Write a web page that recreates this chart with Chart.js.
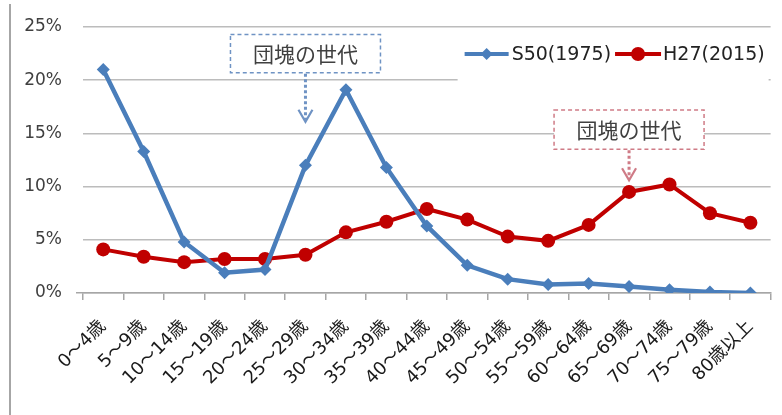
<!DOCTYPE html>
<html>
<head>
<meta charset="utf-8">
<script src="https://cdn.jsdelivr.net/npm/chart.js@4.4.1/dist/chart.umd.min.js"></script>
<style>
html,body{margin:0;padding:0;background:#fff;}
#wrap{width:782px;height:415px;position:relative;}
</style>
</head>
<body>
<div id="wrap"><canvas id="c" width="782" height="415"></canvas></div>
<script>
const categories = ["0～4歳","5～9歳","10～14歳","15～19歳","20～24歳","25～29歳","30～34歳","35～39歳","40～44歳","45～49歳","50～54歳","55～59歳","60～64歳","65～69歳","70～74歳","75～79歳","80歳以上"];
const s50_1975 = [21.0, 13.3, 4.8, 1.9, 2.2, 12.0, 19.1, 11.8, 6.3, 2.6, 1.3, 0.8, 0.9, 0.6, 0.3, 0.1, 0.0];
const h27_2015 = [4.1, 3.4, 2.9, 3.2, 3.2, 3.6, 5.7, 6.7, 7.9, 6.9, 5.3, 4.9, 6.4, 9.5, 10.2, 7.5, 6.6];
const seriesNames = ["S50(1975)", "H27(2015)"];
const yTicks = [0, 5, 10, 15, 20, 25];
// annotations: category index of arrow, box top/bottom (%), arrow tip (%)
const notes = [
  {label:"団塊の世代", index:5,  boxTop:24.3, boxBottom:20.7, tip:16.1, color:"#6f93c4", text:"#404040"},
  {label:"団塊の世代", index:13, boxTop:17.2, boxBottom:13.5, tip:10.6, color:"#cf7b86", text:"#404040"}
];

const BLUE = "#4a7ebb";
const RED = "#c00000";

const decor = {
  id: 'decor',
  afterDraw(chart) {
    const ctx = chart.ctx;
    const x = chart.scales.x, y = chart.scales.y;
    const area = chart.chartArea;
    ctx.save();
    // left frame line
    ctx.strokeStyle = "#a6a6a6";
    ctx.lineWidth = 2;
    ctx.beginPath(); ctx.moveTo(10, 4); ctx.lineTo(10, 415); ctx.stroke();

    // annotations
    notes.forEach(n => {
      const cx = x.getPixelForValue(n.index);
      const top = y.getPixelForValue(n.boxTop), bot = y.getPixelForValue(n.boxBottom);
      const tip = y.getPixelForValue(n.tip);
      const w = 150;
      ctx.fillStyle = "#fff";
      ctx.fillRect(cx - w/2, top, w, bot - top);
      ctx.setLineDash([4, 3]);
      ctx.strokeStyle = n.color;
      ctx.lineWidth = 1.5;
      ctx.strokeRect(cx - w/2, top, w, bot - top);
      ctx.fillStyle = n.text;
      ctx.font = '21px "Noto Sans CJK JP"';
      ctx.textAlign = 'center'; ctx.textBaseline = 'middle';
      ctx.fillText(n.label, cx, (top + bot)/2);
      // dotted arrow
      ctx.setLineDash([3, 2.5]);
      ctx.lineWidth = 3;
      ctx.beginPath(); ctx.moveTo(cx, bot + 1); ctx.lineTo(cx, tip - 2); ctx.stroke();
      ctx.setLineDash([]);
      ctx.lineWidth = 2.2;
      ctx.beginPath(); ctx.moveTo(cx - 7, tip - 12); ctx.lineTo(cx, tip); ctx.lineTo(cx + 7, tip - 12); ctx.stroke();
    });

    // legend
    const lx = area.right - 306, ly = 54;
    ctx.fillStyle = "#fff";
    ctx.fillRect(lx - 7, 33, area.right - lx + 5, 48);
    ctx.font = '19px "DejaVu Sans"';
    ctx.textAlign = 'left'; ctx.textBaseline = 'middle';
    // blue
    ctx.strokeStyle = BLUE; ctx.lineWidth = 4;
    ctx.beginPath(); ctx.moveTo(lx, ly); ctx.lineTo(lx + 44, ly); ctx.stroke();
    ctx.fillStyle = BLUE;
    ctx.beginPath(); ctx.moveTo(lx + 22, ly - 6); ctx.lineTo(lx + 28, ly); ctx.lineTo(lx + 22, ly + 6); ctx.lineTo(lx + 16, ly); ctx.closePath(); ctx.fill();
    ctx.fillStyle = "#222";
    ctx.fillText(seriesNames[0], lx + 47, ly + 1);
    const w1 = ctx.measureText(seriesNames[0]).width;
    const rx = lx + 47 + w1 + 4;
    ctx.strokeStyle = RED; ctx.lineWidth = 4;
    ctx.beginPath(); ctx.moveTo(rx, ly); ctx.lineTo(rx + 46, ly); ctx.stroke();
    ctx.fillStyle = RED;
    ctx.beginPath(); ctx.arc(rx + 23, ly, 7, 0, Math.PI*2); ctx.fill();
    ctx.fillStyle = "#222";
    ctx.fillText(seriesNames[1], rx + 48, ly + 1);
    ctx.restore();
  }
};

new Chart(document.getElementById('c'), {
  type: 'line',
  data: {
    labels: categories,
    datasets: [
      {label: seriesNames[0], data: s50_1975, borderColor: BLUE, backgroundColor: BLUE, borderWidth: 4.5,
       pointStyle: 'rectRot', pointRadius: 6.5, pointBorderWidth: 0, tension: 0},
      {label: seriesNames[1], data: h27_2015, borderColor: RED, backgroundColor: RED, borderWidth: 4,
       pointStyle: 'circle', pointRadius: 7, pointBorderWidth: 0, tension: 0}
    ]
  },
  options: {
    responsive: false,
    animation: false,
    devicePixelRatio: 1,
    layout: {padding: {left: 0, right: 11, top: 27, bottom: 0}},
    plugins: {legend: {display: false}, tooltip: {enabled: false}},
    scales: {
      x: {
        offset: true,
        grid: {offset: true, drawOnChartArea: false, drawTicks: true, tickLength: 7, color: "#a6a6a6", lineWidth: 1.5},
        border: {display: true, color: "#a6a6a6", width: 1.5},
        ticks: {minRotation: 45, maxRotation: 45, autoSkip: false, color: "#1a1a1a", padding: 16,
                font: {family: '"DejaVu Sans", "Noto Sans CJK JP"', size: 18}},
        afterFit(s) { s.height = 122; }
      },
      y: {
        min: 0, max: 25,
        afterBuildTicks(s) { s.ticks = yTicks.map(v => ({value: v})); },
        grid: {color: "#bcbcbc", lineWidth: 1.5, drawTicks: true, tickLength: 7,
               tickColor: c => (c.tick && c.tick.value === 0) ? "#a6a6a6" : "rgba(0,0,0,0)"},
        border: {display: false},
        ticks: {color: "#404040", padding: 14, font: {family: '"DejaVu Sans"', size: 17},
                callback: v => v + '%'},
        afterFit(s) { s.width = 83; }
      }
    }
  },
  plugins: [decor]
});
</script>
</body>
</html>
